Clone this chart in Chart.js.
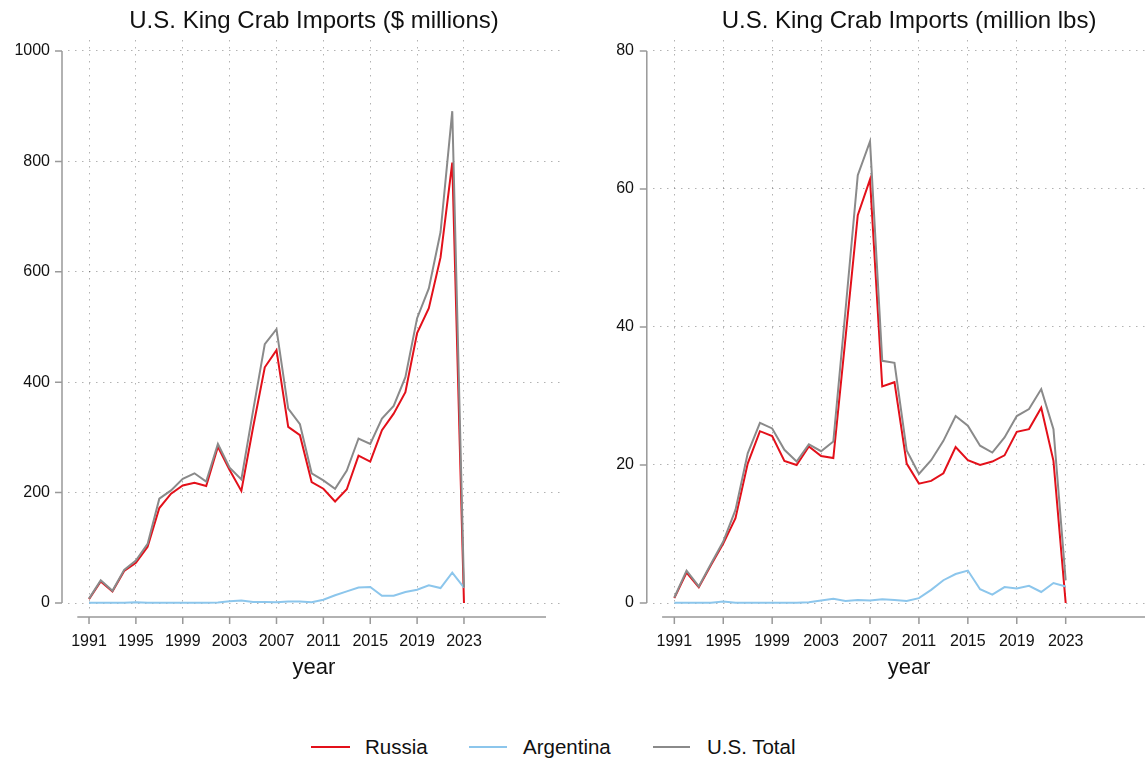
<!DOCTYPE html>
<html>
<head>
<meta charset="utf-8">
<script src="https://cdn.jsdelivr.net/npm/chart.js@4.4.1/dist/chart.umd.min.js"></script>
<style>
    html, body { margin: 0; padding: 0; background: #fff; overflow: hidden; }
    body { width: 1145px; height: 759px; position: relative; font-family: "Liberation Sans", Arial, sans-serif; }
    canvas { position: absolute; top: 0; }
    #valueChart { left: 0; }
    #weightChart { left: 580px; }
    .key-line { position: absolute; top: 746px; height: 2px; }
    .key-text { position: absolute; top: 735px; font-size: 20.5px; line-height: 24px; color: #111; }
</style>
</head>
<body>
<canvas id="valueChart" width="580" height="700"></canvas>
<canvas id="weightChart" width="600" height="700"></canvas>

<div class="key-line" style="left:311px; width:39px; background:#e3101a;"></div>
<div class="key-text" style="left:365px;">Russia</div>
<div class="key-line" style="left:469px; width:38px; background:#8cc6ec;"></div>
<div class="key-text" style="left:523px;">Argentina</div>
<div class="key-line" style="left:653px; width:37px; background:#8a8a8a;"></div>
<div class="key-text" style="left:707px;">U.S. Total</div>

<script>
// Data
const years = [1991, 1992, 1993, 1994, 1995, 1996, 1997, 1998, 1999, 2000, 2001,
    2002, 2003, 2004, 2005, 2006, 2007, 2008, 2009, 2010, 2011, 2012,
    2013, 2014, 2015, 2016, 2017, 2018, 2019, 2020, 2021, 2022, 2023];
const yearTicks = [1991, 1995, 1999, 2003, 2007, 2011, 2015, 2019, 2023];

// $ millions
const russiaValue = [7, 39, 21, 58, 73, 102, 172, 198, 213, 218, 212,
    283, 241, 203, 318, 427, 458, 319, 304, 219, 207, 184,
    206, 267, 256, 313, 343, 382, 489, 534, 626, 798, 0];
const argentinaValue = [0.5, 0.5, 0.5, 0.5, 1.5, 0.5, 0.5, 0.5, 0.5, 0.5, 0.5,
    1, 3, 4.5, 2, 2, 1.5, 2.5, 2.5, 1.5, 6, 14,
    21, 28, 29, 13, 13, 20, 24, 32, 27, 55, 28];
const totalValue = [8, 41, 22, 60, 77, 107, 189, 204, 225, 235, 220,
    288, 245, 224, 348, 469, 496, 352, 324, 235, 222, 207,
    240, 298, 288, 334, 357, 409, 516, 570, 672, 891, 28];
const valueTicks = [0, 200, 400, 600, 800, 1000];

// million lbs
const russiaWeight = [0.7, 4.4, 2.3, 5.5, 8.6, 12.3, 20.2, 24.9, 24.2, 20.6, 20.0,
    22.7, 21.3, 21.0, 38.5, 56.2, 61.4, 31.4, 32.0, 20.2, 17.3, 17.7,
    18.8, 22.6, 20.7, 20.0, 20.5, 21.4, 24.8, 25.2, 28.3, 20.6, 0];
const argentinaWeight = [0.05, 0.05, 0.05, 0.05, 0.2, 0.05, 0.05, 0.05, 0.05, 0.05, 0.05,
    0.1, 0.35, 0.6, 0.3, 0.45, 0.35, 0.55, 0.45, 0.3, 0.7, 1.9,
    3.3, 4.2, 4.7, 2.0, 1.2, 2.3, 2.1, 2.5, 1.6, 2.9, 2.4];
const totalWeight = [0.8, 4.7, 2.4, 5.7, 8.9, 13.5, 21.7, 26.1, 25.3, 22.2, 20.5,
    23.0, 22.0, 23.4, 42.5, 62.0, 66.9, 35.1, 34.8, 22.1, 18.7, 20.7,
    23.5, 27.1, 25.7, 22.8, 21.8, 24.0, 27.1, 28.1, 31.0, 25.2, 3.3];
const weightTicks = [0, 20, 40, 60, 80];

// Styling
const FONT = '"Liberation Sans", Arial, sans-serif';
const GRID_COLOR = 'rgba(0, 0, 0, 0.3)';
const AXIS_COLOR = '#999';

function toPoints(values) {
    return years.map((yr, i) => ({ x: yr, y: values[i] }));
}

// Stata-style axis lines, offset from the plot region
const axisLines = {
    id: 'axisLines',
    afterDraw(chart, args, opts) {
        const { ctx, chartArea } = chart;
        const x = chart.scales.x;
        const y = chart.scales.y;
        const ax = chartArea.left - opts.gap;
        const ay = chartArea.bottom + opts.gap - 1;

        ctx.save();
        ctx.strokeStyle = AXIS_COLOR;
        ctx.lineWidth = 1.5;
        ctx.beginPath();
        ctx.moveTo(ax, y.getPixelForValue(opts.yFrom));
        ctx.lineTo(ax, y.getPixelForValue(opts.yTo));
        y.ticks.forEach(t => {
            const p = y.getPixelForValue(t.value);
            ctx.moveTo(ax - 7, p);
            ctx.lineTo(ax, p);
        });
        ctx.moveTo(x.getPixelForValue(opts.xFrom), ay);
        ctx.lineTo(x.getPixelForValue(opts.xTo), ay);
        x.ticks.forEach(t => {
            const p = x.getPixelForValue(t.value);
            ctx.moveTo(p, ay);
            ctx.lineTo(p, ay + 7);
        });
        ctx.stroke();
        ctx.restore();
    }
};

function makeChart(canvasId, cfg) {
    const ctx = document.getElementById(canvasId).getContext('2d');
    return new Chart(ctx, {
        type: 'line',
        data: {
            datasets: [
                { label: 'Russia', data: toPoints(cfg.russia), borderColor: '#e3101a', order: 3 },
                { label: 'Argentina', data: toPoints(cfg.argentina), borderColor: '#8cc6ec', order: 2 },
                { label: 'U.S. Total', data: toPoints(cfg.total), borderColor: '#8a8a8a', order: 1 }
            ]
        },
        options: {
            responsive: false,
            animation: false,
            events: [],
            layout: { autoPadding: false, padding: { left: 0, right: cfg.rightPad, top: 0, bottom: 0 } },
            elements: {
                line: { borderWidth: 2, tension: 0 },
                point: { radius: 0 }
            },
            plugins: {
                legend: { display: false },
                tooltip: { enabled: false },
                title: {
                    display: true,
                    text: cfg.title,
                    fullSize: false,
                    color: '#111',
                    font: { family: FONT, size: 24, weight: 'normal' },
                    padding: { top: 7, bottom: 4.2 }
                },
                axisLines: { gap: 6, yFrom: cfg.yTicks[0], yTo: cfg.yTicks[cfg.yTicks.length - 1], xFrom: 1990, xTo: 2030 }
            },
            scales: {
                x: {
                    type: 'linear',
                    bounds: 'data',
                    min: 1990 - 9.3 / cfg.pxPerYear,
                    max: 2030 + 14 / cfg.pxPerYear,
                    afterBuildTicks: s => { s.ticks = yearTicks.map(v => ({ value: v })); },
                    afterFit: s => { s.height = 88; },
                    ticks: {
                        autoSkip: false,
                        maxRotation: 0,
                        padding: 20,
                        color: '#111',
                        font: { family: FONT, size: 16 },
                        callback: v => String(v)
                    },
                    grid: { color: GRID_COLOR, lineWidth: 1, drawTicks: false },
                    border: { display: false, dash: [1.5, 5.5] },
                    title: {
                        display: true,
                        text: 'year',
                        color: '#111',
                        font: { family: FONT, size: 22 },
                        padding: { top: 0, bottom: 18.5 }
                    }
                },
                y: {
                    type: 'linear',
                    bounds: 'data',
                    min: -9 / cfg.pxPerUnit,
                    max: cfg.yTicks[cfg.yTicks.length - 1] + 11 / cfg.pxPerUnit,
                    afterBuildTicks: s => { s.ticks = cfg.yTicks.map(v => ({ value: v })); },
                    afterFit: s => { s.width = cfg.yWidth; },
                    ticks: {
                        padding: cfg.yWidth - cfg.labelRight,
                        color: '#111',
                        font: { family: FONT, size: 16 },
                        callback: v => String(v)
                    },
                    grid: { color: GRID_COLOR, lineWidth: 1, drawTicks: false },
                    border: { display: false, dash: [1.5, 5.5] }
                }
            }
        },
        plugins: [axisLines]
    });
}

// Initialize
makeChart('valueChart', {
    title: 'U.S. King Crab Imports ($ millions)',
    russia: russiaValue,
    argentina: argentinaValue,
    total: totalValue,
    yTicks: valueTicks,
    pxPerYear: 11.72,
    pxPerUnit: 0.552,
    yWidth: 68,
    labelRight: 50,
    rightPad: 20
});

makeChart('weightChart', {
    title: 'U.S. King Crab Imports (million lbs)',
    russia: russiaWeight,
    argentina: argentinaWeight,
    total: totalWeight,
    yTicks: weightTicks,
    pxPerYear: 12.23,
    pxPerUnit: 6.9,
    yWidth: 72.8,
    labelRight: 54,
    rightPad: 14.7
});
</script>
</body>
</html>
